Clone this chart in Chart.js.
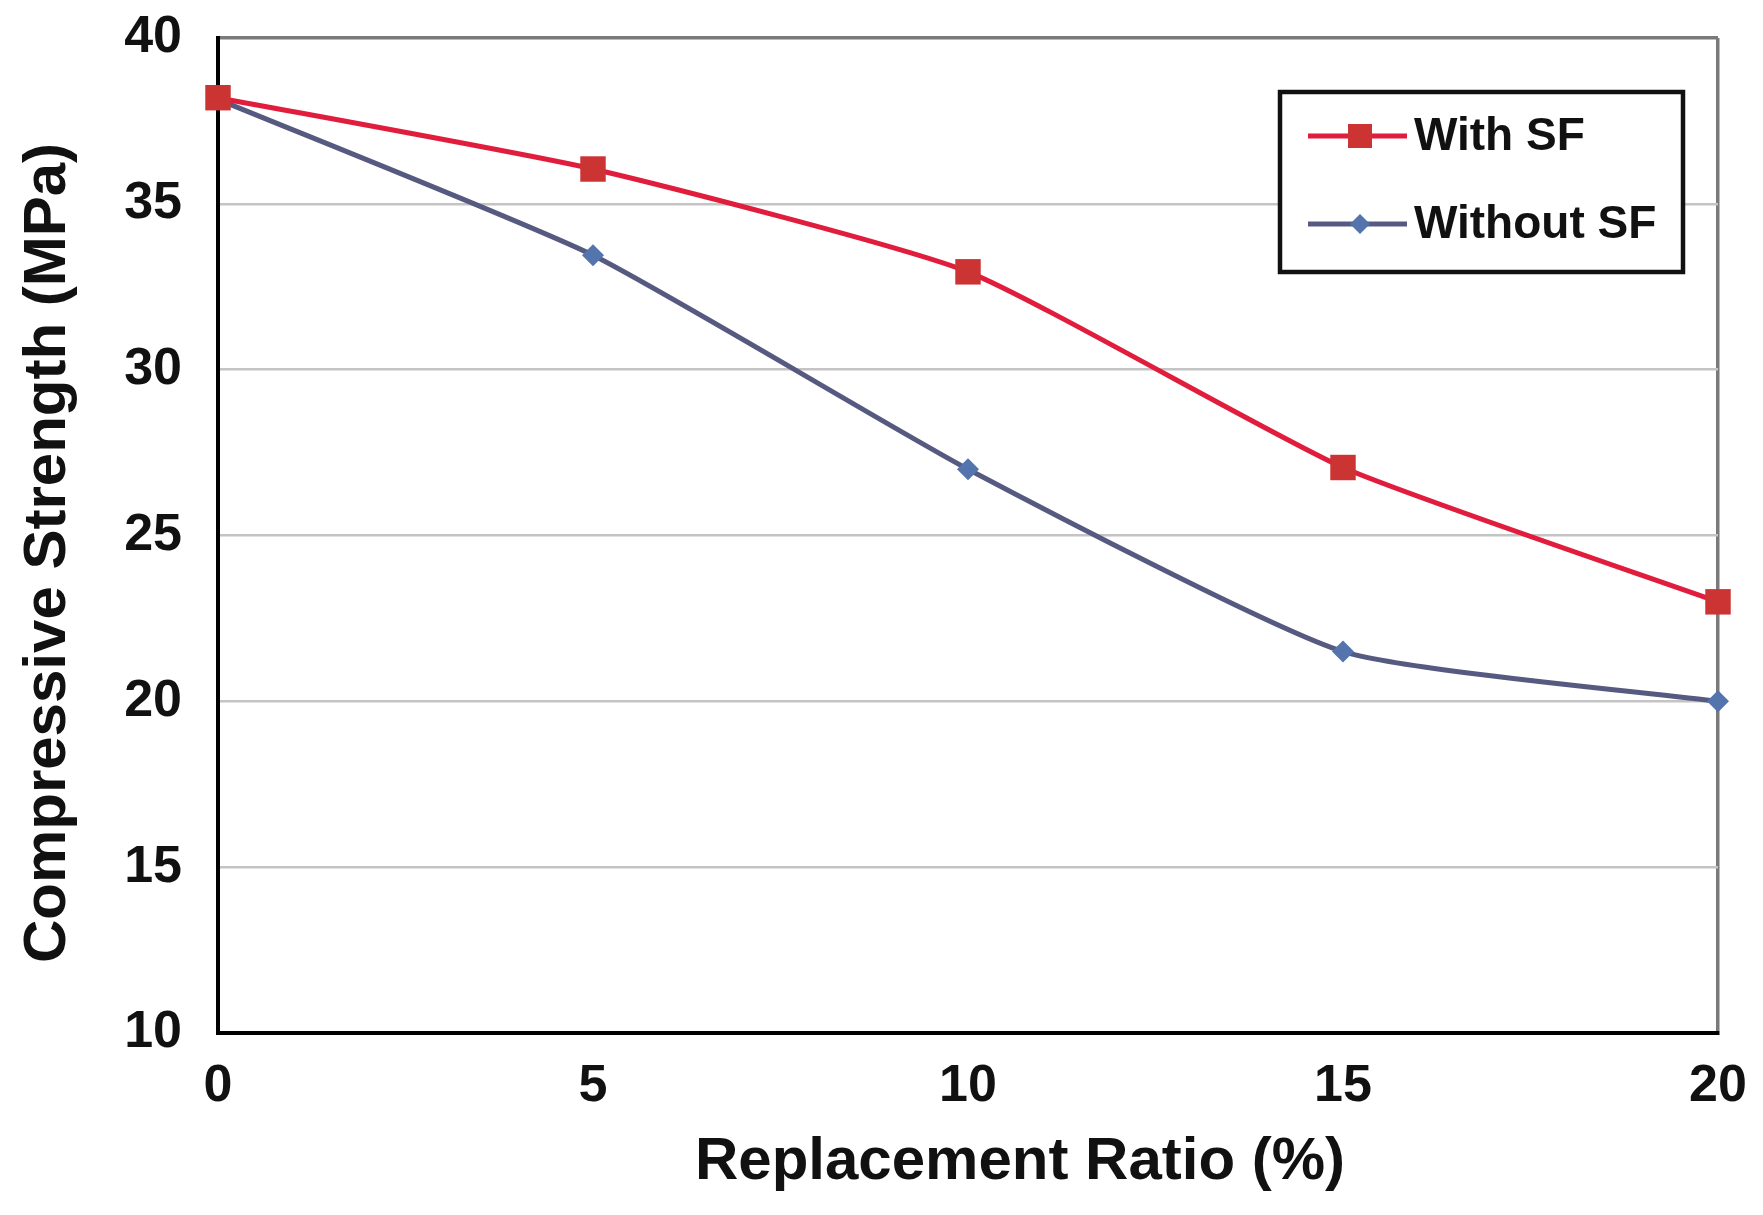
<!DOCTYPE html>
<html>
<head>
<meta charset="utf-8">
<script src="https://cdn.jsdelivr.net/npm/chart.js@4"></script>
<style>
  html, body { margin: 0; padding: 0; background: #fff; }
  #wrap { width: 1763px; height: 1215px; position: relative; }
</style>
</head>
<body>
<div id="wrap"><canvas id="strengthChart"></canvas></div>
<script>
// replacement ratio (%) and compressive strength (MPa)
const ratios = [0, 5, 10, 15, 20];
const withSF = [38.2, 36.05, 32.95, 27.05, 23.0];
const withoutSF = [38.15, 33.45, 27.0, 21.5, 20.0];
const xTicks = [0, 5, 10, 15, 20];
const yTicks = [10, 15, 20, 25, 30, 35, 40];
const seriesNames = ["With SF", "Without SF"];
const xTitle = "Replacement Ratio (%)";
const yTitle = "Compressive Strength (MPa)";

const FONT = "'Liberation Sans', Arial, Helvetica, sans-serif";
const RED_LINE = "#e11d3d", RED_MARK = "#cc3434";
const BLUE_LINE = "#565a80", BLUE_MARK = "#5474ae";

function toPoints(vals){
    return ratios.map((r, i) => ({x: r, y: vals[i]}));
}

// axis titles sit a little off-centre in the original, so draw them here
const axisTitles = {
    id: "axisTitles",
    afterDraw(chart){
        const c = chart.ctx;
        c.save();
        c.fillStyle = "#111";
        c.font = "bold 60px " + FONT;
        c.textAlign = "center";
        c.textBaseline = "middle";
        c.fillText(xTitle, 1020, 1162);
        c.translate(48, 553);
        c.rotate(-Math.PI / 2);
        c.fillText(yTitle, 0, 0);
        c.restore();
    }
};

// boxed legend drawn inside the plot, like the original figure
const boxLegend = {
    id: "boxLegend",
    afterDraw(chart){
        const c = chart.ctx;
        c.save();
        c.fillStyle = "#fff";
        c.fillRect(1280, 92, 403, 180);
        c.strokeStyle = "#111";
        c.lineWidth = 4.5;
        c.strokeRect(1280, 92, 403, 180);
        const rows = [136, 224];
        chart.data.datasets.forEach((ds, i) => {
            const y = rows[i];
            c.strokeStyle = ds.borderColor;
            c.lineWidth = ds.borderWidth;
            c.beginPath();
            c.moveTo(1308, y);
            c.lineTo(1407, y);
            c.stroke();
            c.fillStyle = ds.pointBackgroundColor;
            c.beginPath();
            if(ds.pointStyle === "rect"){
                c.rect(1360 - 12, y - 12, 24, 24);
            } else {
                c.moveTo(1360, y - 10); c.lineTo(1370, y); c.lineTo(1360, y + 10); c.lineTo(1350, y);
                c.closePath();
            }
            c.fill();
            c.fillStyle = "#111";
            c.font = "bold 46px " + FONT;
            c.textAlign = "left";
            c.textBaseline = "middle";
            c.fillText(ds.label, 1414, y + 1);
        });
        c.restore();
    }
};

new Chart(document.getElementById("strengthChart"), {
    type: "line",
    data: {
        datasets: [
            {
                label: seriesNames[0],
                data: toPoints(withSF),
                borderColor: RED_LINE,
                borderWidth: 5,
                pointStyle: "rect",
                pointRadius: 18,
                pointBackgroundColor: RED_MARK,
                pointBorderWidth: 0,
                tension: 0.17,
                clip: false
            },
            {
                label: seriesNames[1],
                data: toPoints(withoutSF),
                borderColor: BLUE_LINE,
                borderWidth: 5,
                pointStyle: "rectRot",
                pointRadius: 11,
                pointBackgroundColor: BLUE_MARK,
                pointBorderWidth: 0,
                tension: 0.17,
                clip: false
            }
        ]
    },
    options: {
        responsive: true,
        maintainAspectRatio: false,
        animation: false,
        layout: { padding: { top: 38, right: 45, left: 0, bottom: 0 } },
        plugins: {
            legend: { display: false },
            tooltip: { enabled: false }
        },
        scales: {
            x: {
                type: "linear",
                min: 0,
                max: 20,
                afterBuildTicks: axis => { axis.ticks = xTicks.map(v => ({value: v})); },
                afterFit: axis => {
                    axis.height = 182;
                    axis.paddingLeft = 0;
                    axis.paddingRight = 0;
                },
                ticks: {
                    padding: 22,
                    color: "#111",
                    font: { family: FONT, size: 52, weight: "bold" }
                },
                grid: {
                    drawTicks: false,
                    color: ctx => ctx.tick && ctx.tick.value === 20 ? "#7a7a7a" : "rgba(0,0,0,0)",
                    lineWidth: 3.5
                },
                border: { color: "#000", width: 4 },
                title: { display: false }
            },
            y: {
                min: 10,
                max: 40,
                afterBuildTicks: axis => { axis.ticks = yTicks.map(v => ({value: v})); },
                afterFit: axis => {
                    axis.width = 218;
                    axis.paddingTop = 0;
                    axis.paddingBottom = 0;
                },
                ticks: {
                    padding: 36,
                    color: "#111",
                    font: { family: FONT, size: 52, weight: "bold" }
                },
                grid: {
                    drawTicks: false,
                    color: ctx => {
                        const v = ctx.tick && ctx.tick.value;
                        if(v === 40) return "#7a7a7a";
                        if(v === 10) return "rgba(0,0,0,0)";
                        return "#c4c4c4";
                    },
                    lineWidth: ctx => ctx.tick && ctx.tick.value === 40 ? 3.5 : 2.5
                },
                border: { color: "#000", width: 4 },
                title: { display: false }
            }
        }
    },
    plugins: [axisTitles, boxLegend]
});
</script>
</body>
</html>
